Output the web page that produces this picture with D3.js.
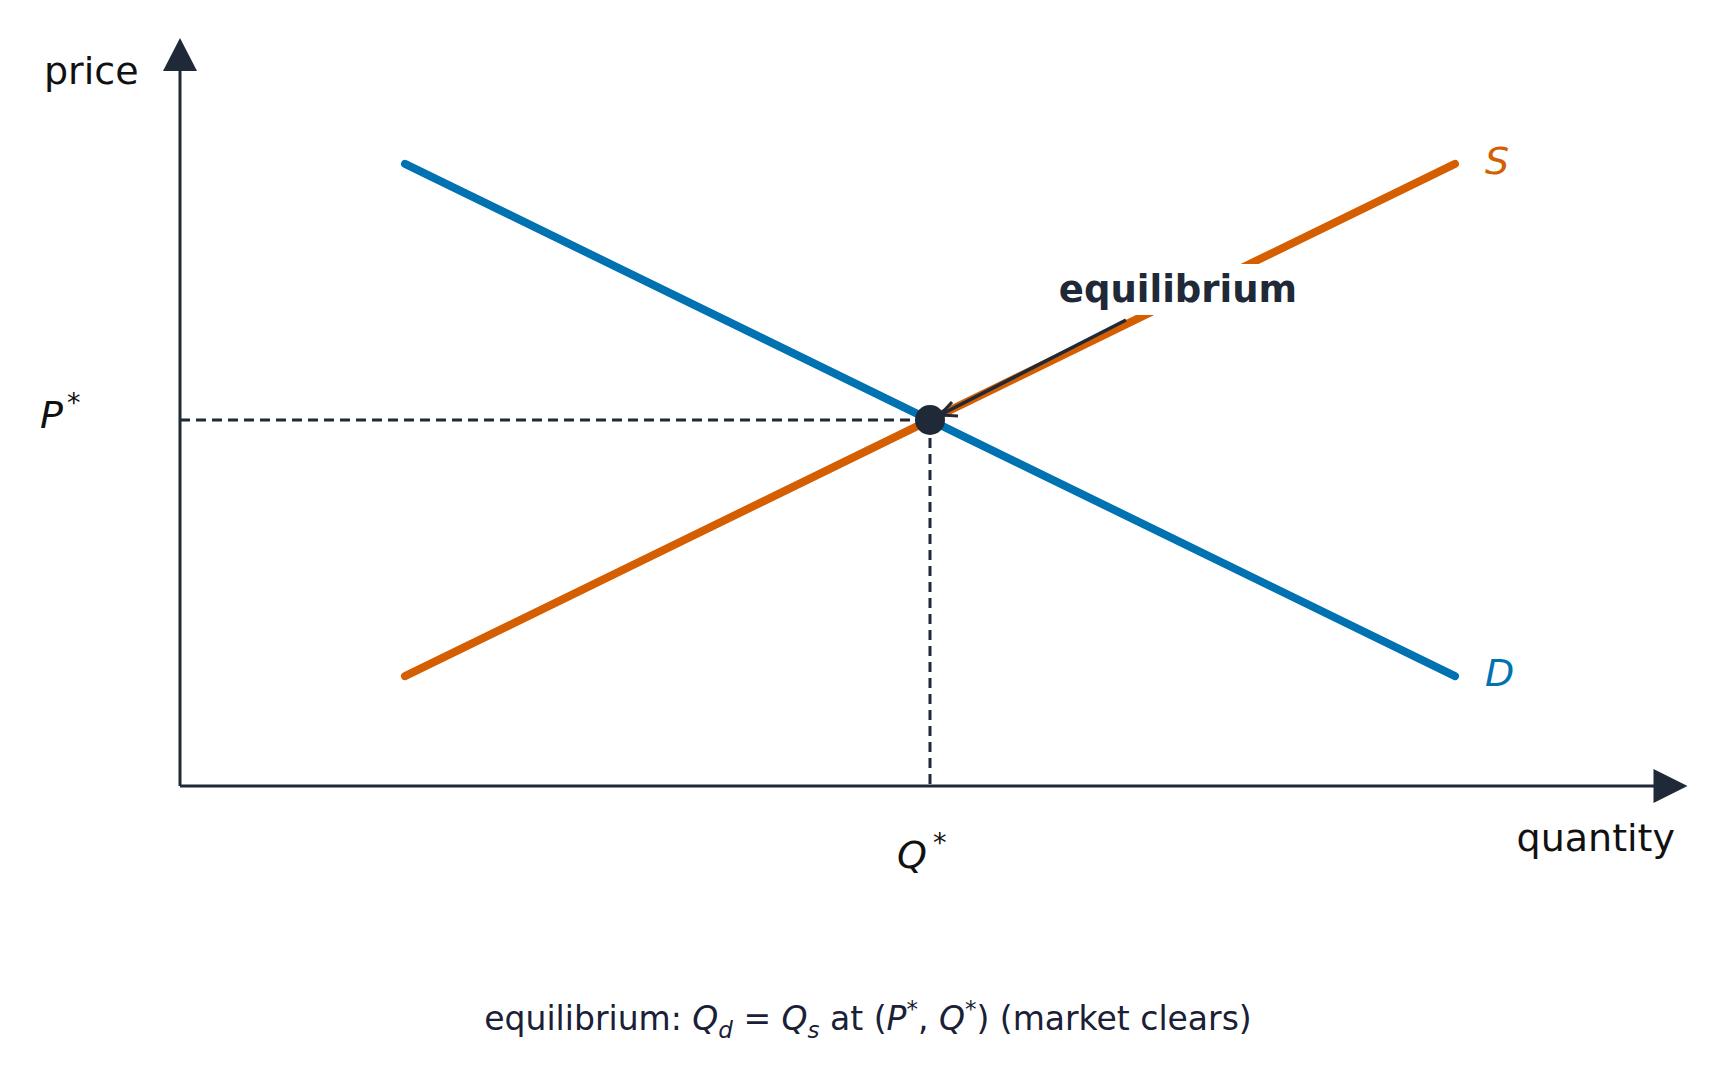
<!DOCTYPE html>
<html>
<head>
<meta charset="utf-8">
<script src="https://cdn.jsdelivr.net/npm/d3@7"></script>
<style>
  body { margin: 0; background: #fff; }
  text { font-family: "DejaVu Sans", sans-serif; }
</style>
</head>
<body>
<div id="viz"></div>
<script>
const width = 1730;
const height = 1082;
const demand = [{q: 1.5, p: 8.5}, {q: 8.5, p: 1.5}];
const supply = [{q: 1.5, p: 1.5}, {q: 8.5, p: 8.5}];
const equilibrium = {q: 5, p: 5};
const axisEnd = {q: 10.05, p: 10.22};

const xScale = d3.scaleLinear().domain([0, 10]).range([180, 1680]);
const yScale = d3.scaleLinear().domain([0, 10]).range([786, 54]);
const ink = '#1f2937';

const svg = d3.select('#viz').append('svg')
  .attr('width', width).attr('height', height);

// axes
svg.append('line')
  .attr('x1', xScale(0)).attr('y1', yScale(0))
  .attr('x2', xScale(0)).attr('y2', yScale(axisEnd.p) + 20)
  .attr('stroke', ink).attr('stroke-width', 3);
svg.append('line')
  .attr('x1', xScale(0)).attr('y1', yScale(0))
  .attr('x2', xScale(axisEnd.q) - 20).attr('y2', yScale(0))
  .attr('stroke', ink).attr('stroke-width', 3);
const tipY = yScale(axisEnd.p), tipX = xScale(axisEnd.q);
svg.append('path')
  .attr('d', `M${xScale(0)},${tipY} L${xScale(0) - 17},${tipY + 33} L${xScale(0) + 17},${tipY + 33}Z`)
  .attr('fill', ink);
svg.append('path')
  .attr('d', `M${tipX},${yScale(0)} L${tipX - 34},${yScale(0) - 17} L${tipX - 34},${yScale(0) + 17}Z`)
  .attr('fill', ink);

// dashed guides
svg.append('path')
  .attr('d', `M${xScale(0)},${yScale(equilibrium.p)} H${xScale(equilibrium.q)} V${yScale(0)}`)
  .attr('fill', 'none').attr('stroke', ink).attr('stroke-width', 3)
  .attr('stroke-dasharray', '10,6');

const line = d3.line().x(d => xScale(d.q)).y(d => yScale(d.p));
svg.append('path').attr('d', line(demand))
  .attr('stroke', '#0072B2').attr('stroke-width', 8).attr('stroke-linecap', 'round').attr('fill', 'none');
svg.append('path').attr('d', line(supply))
  .attr('stroke', '#D55E00').attr('stroke-width', 8).attr('stroke-linecap', 'round').attr('fill', 'none');

// annotation label with white box
const label = svg.append('text')
  .attr('x', 1178).attr('y', 302).attr('text-anchor', 'middle')
  .attr('font-size', 37).attr('font-weight', 'bold').attr('fill', ink)
  .text('equilibrium');
const bb = label.node().getBBox();
svg.insert('rect', 'text')
  .attr('x', bb.x - 6).attr('y', bb.y - 4).attr('width', bb.width + 12).attr('height', bb.height + 8)
  .attr('fill', '#fff');

// arrow to equilibrium
const ex = xScale(equilibrium.q), ey = yScale(equilibrium.p);
svg.append('line')
  .attr('x1', 1126).attr('y1', 320).attr('x2', ex + 12).attr('y2', ey - 6)
  .attr('stroke', ink).attr('stroke-width', 3.5);
svg.append('path')
  .attr('d', `M${ex + 22},${ey - 18} L${ex + 10},${ey - 5} L${ex + 28},${ey - 4}`)
  .attr('fill', 'none').attr('stroke', ink).attr('stroke-width', 3);

svg.append('circle').attr('cx', ex).attr('cy', ey).attr('r', 15).attr('fill', ink);

// labels
svg.append('text').attr('x', 44).attr('y', 84).attr('font-size', 38).attr('fill', '#111').text('price');
svg.append('text').attr('x', 1675).attr('y', 851).attr('text-anchor', 'end').attr('font-size', 38).attr('fill', '#111').text('quantity');
svg.append('text').attr('x', xScale(8.5) + 30).attr('y', 174).attr('font-size', 38).attr('font-style', 'italic').attr('fill', '#D55E00').text('S');
svg.append('text').attr('x', xScale(8.5) + 30).attr('y', 686).attr('font-size', 38).attr('font-style', 'italic').attr('fill', '#0072B2').text('D');

const pl = svg.append('text').attr('x', 40).attr('y', 428).attr('font-size', 38).attr('fill', '#111');
pl.append('tspan').attr('font-style', 'italic').text('P');
pl.append('tspan').attr('dy', -16).attr('dx', 4).attr('font-size', 27).text('*');
const ql = svg.append('text').attr('x', 897).attr('y', 868).attr('font-size', 38).attr('fill', '#111');
ql.append('tspan').attr('font-style', 'italic').text('Q');
ql.append('tspan').attr('dy', -16).attr('dx', 6).attr('font-size', 27).text('*');

// caption
const cap = svg.append('text').attr('x', 868).attr('y', 1030).attr('text-anchor', 'middle')
  .attr('font-size', 33).attr('fill', '#1a2035');
cap.append('tspan').text('equilibrium: ');
cap.append('tspan').attr('font-style', 'italic').text('Q');
cap.append('tspan').attr('font-style', 'italic').attr('font-size', 23).attr('dy', 8).text('d');
cap.append('tspan').attr('dy', -8).text(' = ');
cap.append('tspan').attr('font-style', 'italic').text('Q');
cap.append('tspan').attr('font-style', 'italic').attr('font-size', 23).attr('dy', 8).text('s');
cap.append('tspan').attr('dy', -8).text(' at (');
cap.append('tspan').attr('font-style', 'italic').text('P');
cap.append('tspan').attr('font-size', 23).attr('dy', -13).text('*');
cap.append('tspan').attr('dy', 13).text(', ');
cap.append('tspan').attr('font-style', 'italic').text('Q');
cap.append('tspan').attr('font-size', 23).attr('dy', -13).text('*');
cap.append('tspan').attr('dy', 13).text(')  (market clears)');
</script>
</body>
</html>
